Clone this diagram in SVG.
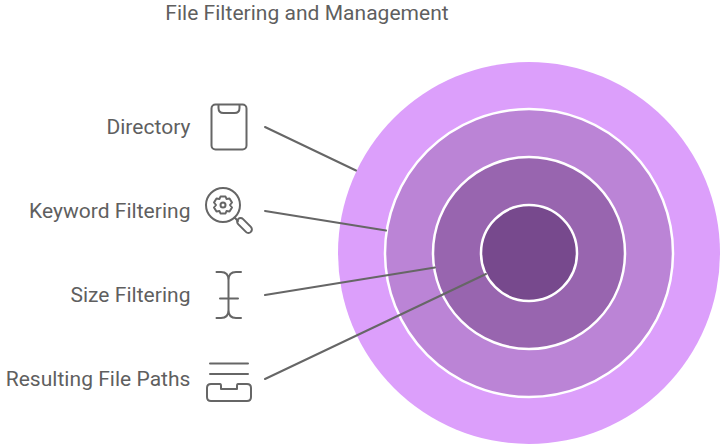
<svg xmlns="http://www.w3.org/2000/svg" width="722" height="446" viewBox="0 0 722 446">
<style>
text{font-family:Roboto,"Liberation Sans",sans-serif;font-size:21px;letter-spacing:.03px;fill:#5f5f5f}
.r{text-anchor:end}
.ring{stroke:#fff;stroke-width:2.5}
.c{fill:none;stroke:#666;stroke-width:2;stroke-linecap:round}
.i{fill:none;stroke:#666;stroke-width:2;stroke-linecap:round;stroke-linejoin:round}
</style>
<rect width="722" height="446" fill="#fff"/>
<text id="title" x="307" y="20" text-anchor="middle">File Filtering and Management</text>
<g id="rings">
<circle cx="529" cy="253" r="191" fill="#dc9ffb"/>
<circle class="ring" cx="529" cy="253" r="144" fill="#bb84d6"/>
<circle class="ring" cx="529" cy="253" r="96" fill="#9865af"/>
<circle class="ring" cx="529" cy="253" r="48" fill="#77498d"/>
</g>
<g id="connectors">
<path class="c" d="M265 127L356 170.500"/>
<path class="c" d="M265 211L386 230.500"/>
<path class="c" d="M265 295L435 267.500"/>
<path class="c" d="M265 379L486 274"/>
</g>
<g id="directory">
<text class="r" x="190.500" y="134">Directory</text>
<rect class="i" x="211.500" y="104.500" width="35" height="45" rx="4"/>
<path class="i" d="M218.500 105V108Q218.500 113 223.500 113H234.500Q239.500 113 239.500 108V105"/>
</g>
<g id="keyword">
<text class="r" x="190.500" y="218">Keyword Filtering</text>
<circle class="i" cx="223" cy="205" r="17"/>
<path class="i" d="M234.500 217.500L238 221"/>
<rect class="i" x="-3.500" y="-9" width="7" height="18" rx="3.500" transform="translate(244.500 225.500) rotate(-45)"/>
<circle class="i" cx="223" cy="205" r="2.500"/>
<path class="i" d="M220.500 196.500H225.500L226.500 199L229.500 198.500L232 202.500L230 205L232 207.500L229.500 211.500L226.500 211L225.500 213.500H220.500L219.500 211L216.500 211.500L214 207.500L216 205L214 202.500L216.500 198.500L219.500 199Z"/>
</g>
<g id="size">
<text class="r" x="190.500" y="302">Size Filtering</text>
<path class="i" d="M216.500 272H221Q228.500 272 228.500 280V310Q228.500 318 221 318H216.500M241 272H236Q228.500 272 228.500 280M228.500 310Q228.500 318 236 318H241M220 298.500H238"/>
</g>
<g id="paths">
<text class="r" x="190.500" y="386">Resulting File Paths</text>
<path class="i" d="M210 363.500H248M210 374H248M211 384H220Q221 384 221 386V389H237V386Q237 384 238 384H247Q251 384 251 388V397Q251 401 247 401H211Q207 401 207 397V388Q207 384 211 384Z"/>
</g>
</svg>
